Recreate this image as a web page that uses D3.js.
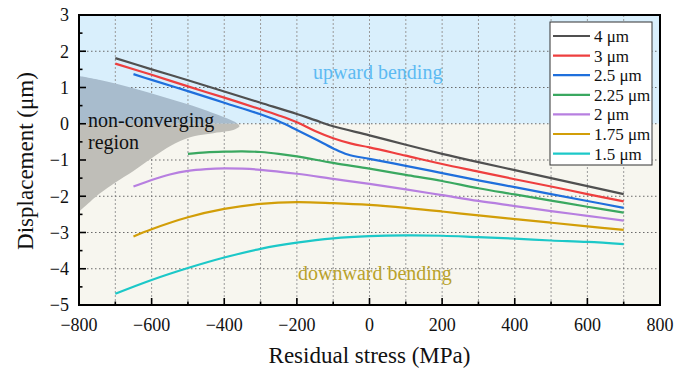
<!DOCTYPE html>
<html><head><meta charset="utf-8">
<script src="https://cdn.jsdelivr.net/npm/d3@7"></script>
<style>body{margin:0;background:#fff}svg{display:block}text{font-family:"Liberation Serif","Times New Roman",serif}</style>
</head><body>
<svg id="c" width="689" height="375"></svg>
<script>
// ---- data ----
const xTicks = [-800,-600,-400,-200,0,200,400,600,800];
const yTicks = [3,2,1,0,-1,-2,-3,-4,-5];
const seriesNames = ["4 \u03bcm","3 \u03bcm","2.5 \u03bcm","2.25 \u03bcm","2 \u03bcm","1.75 \u03bcm","1.5 \u03bcm"];
const seriesColors = ["#505050","#ee3f3f","#1f6fdc","#3aa860","#b77fe0","#d29e08","#1cc8c8"];
const s4x   = [-700,-600,-500,-400,-300,-200,-150,-100,0,100,200,300,400,500,600,700];
const s4y   = [1.81,1.50,1.20,0.89,0.58,0.27,0.10,-0.07,-0.32,-0.58,-0.83,-1.06,-1.28,-1.50,-1.72,-1.94];
const s3x   = [-700,-600,-500,-400,-300,-250,-200,-150,-100,-50,0,100,200,300,400,500,600,700];
const s3y   = [1.66,1.35,1.03,0.72,0.40,0.23,0.04,-0.20,-0.40,-0.55,-0.65,-0.88,-1.11,-1.32,-1.53,-1.73,-1.94,-2.14];
const s25x  = [-650,-600,-500,-400,-300,-250,-200,-150,-100,-60,0,100,200,300,400,500,600,700];
const s25y  = [1.37,1.21,0.90,0.58,0.26,0.07,-0.17,-0.42,-0.68,-0.85,-0.97,-1.16,-1.36,-1.56,-1.75,-1.94,-2.13,-2.32];
const s225x = [-500,-450,-400,-350,-300,-250,-200,-100,0,100,200,300,400,500,600,700];
const s225y = [-0.83,-0.79,-0.77,-0.76,-0.78,-0.83,-0.90,-1.08,-1.24,-1.41,-1.58,-1.78,-1.95,-2.12,-2.29,-2.45];
const s2x   = [-650,-600,-550,-500,-450,-400,-350,-300,-200,-100,0,100,200,300,400,500,600,700];
const s2y   = [-1.73,-1.55,-1.40,-1.30,-1.25,-1.23,-1.24,-1.27,-1.38,-1.52,-1.66,-1.81,-1.97,-2.13,-2.27,-2.41,-2.54,-2.67];
const s175x = [-650,-600,-500,-400,-300,-200,-100,0,100,200,300,400,500,600,700];
const s175y = [-3.11,-2.91,-2.58,-2.35,-2.21,-2.16,-2.19,-2.24,-2.32,-2.42,-2.53,-2.63,-2.73,-2.83,-2.93];
const s15x  = [-700,-600,-500,-400,-300,-200,-100,0,100,200,300,400,500,600,700];
const s15y  = [-4.69,-4.31,-3.98,-3.69,-3.45,-3.28,-3.16,-3.10,-3.08,-3.09,-3.13,-3.17,-3.22,-3.26,-3.32];
// non-converging region boundary (from top-left, around the tip, to bottom-left)
const regionX = [-800,-742,-650,-558,-467,-393,-366,-358,-370,-393,-430,-470,-513,-558,-600,-650,-700,-742,-800];
const regionY = [1.32,1.21,0.98,0.71,0.43,0.15,0.02,-0.07,-0.15,-0.21,-0.26,-0.32,-0.44,-0.67,-0.95,-1.30,-1.62,-1.92,-2.43];

const seriesX = [s4x,s3x,s25x,s225x,s2x,s175x,s15x];
const seriesY = [s4y,s3y,s25y,s225y,s2y,s175y,s15y];

// ---- chart ----
const svg = d3.select("#c");
const x = d3.scaleLinear().domain([-800,800]).range([79,660]);
const y = d3.scaleLinear().domain([-5,3]).range([305,15]);
const [x0,x1] = x.range(), [y0,y1] = [y(3), y(-5)];

svg.append("clipPath").attr("id","plot").append("rect")
  .attr("x",x0).attr("y",y0).attr("width",x1-x0).attr("height",y1-y0);
svg.append("clipPath").attr("id","upper").append("rect")
  .attr("x",x0).attr("y",y0).attr("width",x1-x0).attr("height",y(0)-y0);
svg.append("clipPath").attr("id","lower").append("rect")
  .attr("x",x0).attr("y",y(0)).attr("width",x1-x0).attr("height",y1-y(0));

// backgrounds
svg.append("rect").attr("x",x0).attr("y",y(3)).attr("width",x1-x0).attr("height",y(0)-y(3)).attr("fill","#d9effc");
svg.append("rect").attr("x",x0).attr("y",y(0)).attr("width",x1-x0).attr("height",y(-5)-y(0)).attr("fill","#f7f6ef");

// grid
const g = svg.append("g").attr("clip-path","url(#plot)");
d3.range(-700,800,100).forEach(v=>{
  g.append("line").attr("x1",x(v)).attr("x2",x(v)).attr("y1",y0).attr("y2",y1)
   .attr("stroke","#9a9a9a").attr("stroke-width",1).attr("stroke-dasharray","2,2");
});
d3.range(-4,3,1).forEach(v=>{
  g.append("line").attr("x1",x0).attr("x2",x1).attr("y1",y(v)).attr("y2",y(v))
   .attr("stroke","#6a6a6a").attr("stroke-width",1).attr("stroke-dasharray","1.5,2.5");
});

// non-converging region
const regionPts = regionX.map((v,i)=>[v,regionY[i]]);
const regionLine = d3.line().x(d=>x(d[0])).y(d=>y(d[1])).curve(d3.curveCatmullRom.alpha(0.5));
const rp = regionLine(regionPts) + "Z";
svg.append("path").attr("d",rp).attr("fill","#a8bccd").attr("clip-path","url(#upper)");
svg.append("path").attr("d",rp).attr("fill","#bfbeb8").attr("clip-path","url(#lower)");

// annotations
svg.append("text").attr("x",88).attr("y",127).attr("font-size",20).attr("fill","#111").text("non-converging");
svg.append("text").attr("x",88).attr("y",149).attr("font-size",20).attr("fill","#111").text("region");
svg.append("text").attr("x",313).attr("y",79).attr("font-size",20).attr("fill","#5dbaf2").text("upward bending");
svg.append("text").attr("x",298).attr("y",280).attr("font-size",20).attr("fill","#b9a22a").text("downward bending");

// data lines
const line = d3.line().x(d=>x(d[0])).y(d=>y(d[1])).curve(d3.curveCatmullRom.alpha(0.5));
const lg = svg.append("g").attr("clip-path","url(#plot)");
seriesX.forEach((xs,i)=>{
  const pts = xs.map((v,j)=>[v,seriesY[i][j]]);
  lg.append("path").attr("d",line(pts)).attr("fill","none")
    .attr("stroke",seriesColors[i]).attr("stroke-width",2.2);
});

// frame
svg.append("rect").attr("x",x0).attr("y",y0).attr("width",x1-x0).attr("height",y1-y0)
  .attr("fill","none").attr("stroke","#000").attr("stroke-width",2);

// ticks
const tk = svg.append("g").attr("stroke","#000").attr("stroke-width",1.6);
d3.range(-700,800,100).forEach(v=>{
  const major = v % 200 === 0;
  tk.append("line").attr("x1",x(v)).attr("x2",x(v)).attr("y1",y1).attr("y2",y1-(major?7:3.5));
});
d3.range(-4.5,3,0.5).forEach(v=>{
  const major = Number.isInteger(v);
  tk.append("line").attr("x1",x0).attr("x2",x0+(major?7:3.5)).attr("y1",y(v)).attr("y2",y(v));
});

// tick labels
const fmt = v => v < 0 ? "\u2212" + Math.abs(v) : String(v);
xTicks.forEach(v=>{
  svg.append("text").attr("x",x(v)).attr("y",331).attr("text-anchor","middle")
    .attr("font-size",18).attr("fill","#111").text(fmt(v));
});
yTicks.forEach(v=>{
  svg.append("text").attr("x",69).attr("y",y(v)).attr("dy","0.35em").attr("text-anchor","end")
    .attr("font-size",18).attr("fill","#111").text(fmt(v));
});

// axis titles
svg.append("text").attr("x",(x0+x1)/2).attr("y",363).attr("text-anchor","middle")
  .attr("font-size",23).attr("fill","#111").text("Residual stress (MPa)");
svg.append("text").attr("transform","translate(33,161) rotate(-90)").attr("text-anchor","middle")
  .attr("font-size",23).attr("fill","#111").text("Displacement (\u03bcm)");

// legend
const lgd = svg.append("g");
lgd.append("rect").attr("x",550).attr("y",22).attr("width",102).attr("height",143)
  .attr("fill","#fff").attr("stroke","#333").attr("stroke-width",1);
seriesNames.forEach((n,i)=>{
  const yy = 36 + i*19.6;
  lgd.append("line").attr("x1",553).attr("x2",590).attr("y1",yy).attr("y2",yy)
    .attr("stroke",seriesColors[i]).attr("stroke-width",2.2);
  lgd.append("text").attr("x",594).attr("y",yy+6).attr("font-size",17).attr("fill","#111").text(n);
});
</script>
</body></html>
